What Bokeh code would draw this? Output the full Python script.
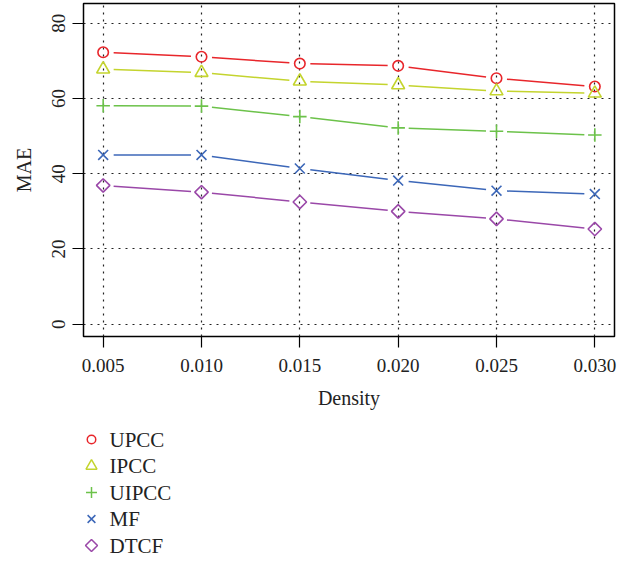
import math
from bokeh.plotting import figure
from bokeh.layouts import column
from bokeh.core.properties import value
from bokeh.models import Range1d, FixedTicker, NumeralTickFormatter
from bokeh.embed import file_html
from bokeh.resources import INLINE

# ---- data ----
density = [0.005, 0.010, 0.015, 0.020, 0.025, 0.030]
upcc = [72.3, 71.1, 69.3, 68.7, 65.4, 63.2]
ipcc = [67.8, 66.9, 64.6, 63.6, 62.0, 61.4]
uipcc = [58.1, 58.0, 55.2, 52.2, 51.3, 50.3]
mf = [45.0, 45.0, 41.4, 38.2, 35.5, 34.6]
dtcf = [36.9, 35.1, 32.5, 30.0, 28.0, 25.3]
series_names = ["UPCC", "IPCC", "UIPCC", "MF", "DTCF"]
y_ticks = [0, 20, 40, 60, 80]

# ---- styles ----
colors = ["#E8262B", "#C4D42E", "#6CC24A", "#3C67B8", "#9A48A8"]
markers = ["circle", "triangle", "cross", "x", "square"]
msizes = [10.5, 13, 13.5, 14, 9.5]
leg_sizes = [8.5, 11, 11, 11, 8.5]
angles = [0, 0, 0, 0, math.pi / 4]

FONT = "Liberation Serif"
ML, MR, MT, MB = 83, 3, 3, 88
FW, FH = 531, 333
X0, X1 = 0.004, 0.031
Y0, Y1 = -3.28, 85.28

p = figure(frame_width=FW, frame_height=FH, output_backend="svg", toolbar_location=None,
           x_range=Range1d(X0, X1), y_range=Range1d(Y0, Y1),
           min_border_left=ML, min_border_right=MR, min_border_top=MT,
           min_border_bottom=MB)
p.background_fill_color = "white"
p.border_fill_color = "white"
p.outline_line_color = "black"
p.outline_line_width = 1.5

for ax in (p.xaxis[0], p.yaxis[0]):
    ax.axis_line_color = None
    ax.major_tick_line_color = "black"
    ax.major_tick_line_width = 1.2
    ax.major_tick_out = 11
    ax.major_tick_in = 0
    ax.minor_tick_line_color = None
    ax.major_label_text_font = FONT
    ax.major_label_text_font_size = "19px"
    ax.major_label_text_color = "#222222"
    ax.axis_label_text_font = FONT
    ax.axis_label_text_font_size = "20px"
    ax.axis_label_text_font_style = "normal"
    ax.axis_label_text_color = "#222222"

p.xaxis.ticker = FixedTicker(ticks=density)
p.xaxis.formatter = NumeralTickFormatter(format="0.000")
p.xaxis.axis_label = "Density"
p.xaxis.major_label_standoff = 11
p.xaxis.axis_label_standoff = 12

p.yaxis.ticker = FixedTicker(ticks=y_ticks)
p.yaxis.major_label_orientation = "vertical"
p.yaxis.axis_label = "MAE"
p.yaxis.major_label_standoff = 7
p.yaxis.axis_label_standoff = 15

for g in (p.xgrid[0], p.ygrid[0]):
    g.grid_line_color = "#222222"
    g.grid_line_dash = "2 5"
    g.grid_line_width = 1.2

GAP = 10.5


def to_px(x, y):
    return (x - X0) / (X1 - X0) * FW, (y - Y0) / (Y1 - Y0) * FH


def from_px(px, py):
    return X0 + px / FW * (X1 - X0), Y0 + py / FH * (Y1 - Y0)


for name, vals, col, mk, ms, ang in zip(series_names, [upcc, ipcc, uipcc, mf, dtcf],
                                        colors, markers, msizes, angles):
    xs, ys = [], []
    for i in range(len(density) - 1):
        ax_, ay_ = to_px(density[i], vals[i])
        bx_, by_ = to_px(density[i + 1], vals[i + 1])
        dx, dy = bx_ - ax_, by_ - ay_
        L = math.hypot(dx, dy)
        ux, uy = dx / L, dy / L
        s = from_px(ax_ + GAP * ux, ay_ + GAP * uy)
        e = from_px(bx_ - GAP * ux, by_ - GAP * uy)
        xs.append([s[0], e[0]])
        ys.append([s[1], e[1]])
    p.multi_line(xs, ys, line_color=col, line_width=1.5)
    p.scatter(density, vals, marker=mk, size=ms, angle=ang, line_color=col,
              fill_color=None, line_width=1.6)

# ---- legend panel below the plot (pixel-unit canvas) ----
LH = 134
LEG_Y0, LEG_DY = 15, 26.5
LEG_GX, LEG_TX = 8, 26
p2 = figure(frame_width=FW, frame_height=LH, output_backend="svg", toolbar_location=None,
            x_range=Range1d(0, FW), y_range=Range1d(LH, 0),
            min_border_left=ML, min_border_right=MR, min_border_top=0,
            min_border_bottom=0)
p2.axis.visible = False
p2.grid.visible = False
p2.outline_line_color = None
p2.background_fill_color = "white"
p2.border_fill_color = "white"

for i, (name, col, mk, ls, ang) in enumerate(zip(series_names, colors, markers,
                                                 leg_sizes, angles)):
    row = LEG_Y0 + i * LEG_DY
    p2.scatter([LEG_GX], [row], marker=mk, size=ls, angle=ang, line_color=col,
               fill_color=None, line_width=1.5)
    p2.text([LEG_TX], [row], text=[name], text_font=value(FONT), text_font_size="21px",
            text_baseline="middle", text_align="left", text_color="#222222")

layout = column(p, p2, spacing=0)
open("out.html", "w").write(file_html(layout, INLINE))
